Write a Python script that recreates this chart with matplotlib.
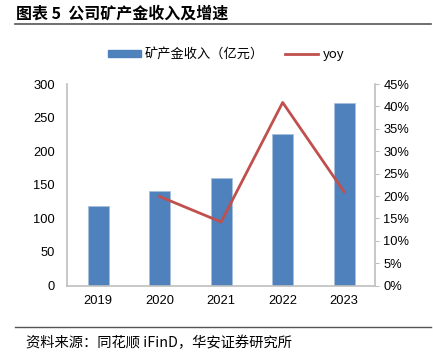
import matplotlib
matplotlib.use("Agg")
import matplotlib.pyplot as plt
from matplotlib.lines import Line2D
from matplotlib.patches import Patch
from matplotlib.ticker import FuncFormatter, MultipleLocator

plt.rcParams['font.family'] = ['Liberation Sans', 'Noto Sans CJK SC', 'DejaVu Sans']

# data
years = ['2019', '2020', '2021', '2022', '2023']
revenue = [117.8, 141.1, 160.8, 225.7, 272.2]   # 亿元
yoy_years = ['2020', '2021', '2022', '2023']
yoy = [19.9, 14.2, 40.9, 20.9]                  # %

blue = '#4F81BD'
red = '#C0504D'
grey = '#BFBFBF'

fig = plt.figure(figsize=(4.33, 3.61), dpi=100)
ax = fig.add_axes([0.1554, 0.209, 0.7106, 0.558])
ax2 = ax.twinx()

x = list(range(len(years)))
ax.bar(x, revenue, width=0.34, color=blue, edgecolor='#A7BFDE', linewidth=0.6, zorder=2)
xi = [years.index(y) for y in yoy_years]
ax2.plot(xi, yoy, color=red, linewidth=2, zorder=3)

ax.set_xlim(-0.5, len(years) - 0.5)
ax.set_ylim(0, 300)
ax.yaxis.set_major_locator(MultipleLocator(50))
ax2.set_ylim(0, 45)
ax2.yaxis.set_major_locator(MultipleLocator(5))
ax2.yaxis.set_major_formatter(FuncFormatter(lambda v, p: '%d%%' % round(v)))

ax.set_xticks(x)
ax.set_xticklabels(years)
for a in (ax, ax2):
    for s in a.spines.values():
        s.set_visible(False)
ax.spines['left'].set_visible(True)
ax.spines['bottom'].set_visible(True)
ax2.spines['right'].set_visible(True)
for a in (ax, ax2):
    for s in a.spines.values():
        s.set_color(grey)
        s.set_linewidth(1.2)
ax.tick_params(axis='both', length=0, labelsize=9.3, colors='black', pad=7)
ax.tick_params(axis='y', pad=9)
ax2.tick_params(axis='y', length=3, width=0.8, color=grey, labelsize=9.3, pad=3)
ax.set_zorder(ax2.get_zorder() - 1)
ax2.patch.set_visible(False)

# legend
handles = [Patch(facecolor=blue, edgecolor=blue, label='矿产金收入（亿元）'),
           Line2D([0], [0], color=red, linewidth=2, label='yoy')]
fig.legend(handles=handles, loc='center', bbox_to_anchor=(0.522, 0.848), ncol=2,
           frameon=False, handlelength=2.5, handleheight=0.45,
           columnspacing=1.6, handletextpad=0.3,
           prop={'family': ['Noto Sans CJK SC'], 'size': 9.5})

# title and footer
fig.text(0.037, 0.962, '图表 5  公司矿产金收入及增速', fontsize=11.5, fontweight='bold',
         family=['Noto Sans CJK SC'], va='center', ha='left')
fig.add_artist(Line2D([0.035, 0.995], [0.933, 0.933], color='#555555', linewidth=1.2))
fig.add_artist(Line2D([0.035, 0.995], [0.094, 0.094], color='#555555', linewidth=1.0))
fig.text(0.06, 0.05, '资料来源：同花顺 iFinD，华安证券研究所', fontsize=10.3,
         family=['Noto Sans CJK SC'], va='center', ha='left')

fig.savefig('out.png', dpi=100)
